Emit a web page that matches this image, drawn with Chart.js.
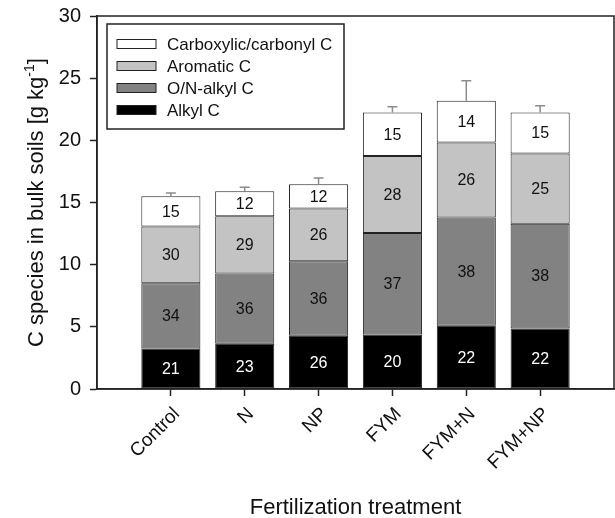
<!DOCTYPE html>
<html>
<head>
<meta charset="utf-8">
<script src="https://cdn.jsdelivr.net/npm/chart.js@4"></script>
<style>
    html, body { margin: 0; padding: 0; background: #fff; }
</style>
</head>
<body>
<canvas id="graphique-especes" width="615" height="518"></canvas>
<script>
// valeurs (g/kg) et pourcentages affichés dans les barres
const categories = ['Control', 'N', 'NP', 'FYM', 'FYM+N', 'FYM+NP'];
const alkyl = [3.26, 3.64, 4.28, 4.39, 5.09, 4.87];
const oNAlkyl = [5.24, 5.64, 5.99, 8.16, 8.70, 8.43];
const aromatic = [4.56, 4.62, 4.24, 6.20, 6.04, 5.64];
const carboxyl = [2.44, 2.00, 1.96, 3.49, 3.35, 3.30];
const errorTops = [15.77, 16.23, 16.98, 22.70, 24.79, 22.78];
const pctAlkyl = [21, 23, 26, 20, 22, 22];
const pctONAlkyl = [34, 36, 36, 37, 38, 38];
const pctAromatic = [30, 29, 26, 28, 26, 25];
const pctCarboxyl = [15, 12, 12, 15, 14, 15];
const yMin = 0;
const yMax = 30;
const yStep = 5;

const police = '"Liberation Sans", Arial, sans-serif';

// une catégorie vide de chaque côté, comme sur l'original
const labels = [''].concat(categories, ['']);
const pad = arr => [null].concat(arr, [null]);

const pourcentages = [pctAlkyl, pctONAlkyl, pctAromatic, pctCarboxyl];

const cadre = {
    id: 'cadre',
    afterDraw(chart) {
        const a = chart.chartArea;
        const ctx = chart.ctx;
        ctx.save();
        ctx.strokeStyle = '#222';
        ctx.lineWidth = 1.5;
        ctx.strokeRect(a.left, a.top, a.right - a.left, a.bottom - a.top);
        ctx.restore();
    }
};

const barresErreur = {
    id: 'barresErreur',
    afterDatasetsDraw(chart) {
        const ctx = chart.ctx;
        const x = chart.scales.x;
        const y = chart.scales.y;
        ctx.save();
        ctx.strokeStyle = '#8c8c8c';
        ctx.lineWidth = 1.5;
        categories.forEach((c, i) => {
            const total = alkyl[i] + oNAlkyl[i] + aromatic[i] + carboxyl[i];
            const px = x.getPixelForValue(i + 1);
            const y0 = y.getPixelForValue(total);
            const y1 = y.getPixelForValue(errorTops[i]);
            ctx.beginPath();
            ctx.moveTo(px, y0);
            ctx.lineTo(px, y1);
            ctx.moveTo(px - 5, y1);
            ctx.lineTo(px + 5, y1);
            ctx.stroke();
        });
        ctx.restore();
    }
};

const etiquettes = {
    id: 'etiquettes',
    afterDatasetsDraw(chart) {
        const ctx = chart.ctx;
        ctx.save();
        ctx.font = '16px ' + police;
        ctx.textAlign = 'center';
        ctx.textBaseline = 'middle';
        chart.data.datasets.forEach((ds, d) => {
            const meta = chart.getDatasetMeta(d);
            meta.data.forEach((bar, j) => {
                if (j === 0 || j === labels.length - 1) return;
                ctx.fillStyle = d === 0 ? '#fff' : '#111';
                ctx.fillText(String(pourcentages[d][j - 1]), bar.x, (bar.y + bar.base) / 2 + 1);
            });
        });
        ctx.restore();
    }
};

const legende = {
    id: 'legende',
    afterDraw(chart) {
        const ctx = chart.ctx;
        ctx.save();
        ctx.strokeStyle = '#222';
        ctx.lineWidth = 1.5;
        ctx.strokeRect(107, 24, 237, 105);
        ctx.font = '17px ' + police;
        ctx.textBaseline = 'middle';
        const ordre = [3, 2, 1, 0];
        ordre.forEach((d, r) => {
            const ds = chart.data.datasets[d];
            const cy = 44 + r * 22;
            ctx.fillStyle = ds.backgroundColor;
            ctx.fillRect(117, cy - 4.5, 39, 9);
            ctx.lineWidth = 1;
            ctx.strokeRect(117, cy - 4.5, 39, 9);
            ctx.fillStyle = '#111';
            ctx.fillText(ds.label, 167, cy + 1);
        });
        ctx.restore();
    }
};

const titres = {
    id: 'titres',
    afterDraw(chart) {
        const ctx = chart.ctx;
        const a = chart.chartArea;
        ctx.save();
        ctx.fillStyle = '#111';
        // titre de l'axe x
        ctx.font = '22px ' + police;
        ctx.textAlign = 'center';
        ctx.textBaseline = 'alphabetic';
        ctx.fillText('Fertilization treatment', (a.left + a.right) / 2, 514);
        // titre de l'axe y avec exposant
        const t1 = 'C species in bulk soils [g kg';
        const sup = '-1';
        const t2 = ']';
        ctx.font = '22px ' + police;
        const w1 = ctx.measureText(t1).width;
        const w3 = ctx.measureText(t2).width;
        ctx.font = '14px ' + police;
        const w2 = ctx.measureText(sup).width;
        const total = w1 + w2 + w3;
        ctx.translate(43, (a.top + a.bottom) / 2);
        ctx.rotate(-Math.PI / 2);
        ctx.textAlign = 'left';
        let x0 = -total / 2;
        ctx.font = '22px ' + police;
        ctx.fillText(t1, x0, 0);
        ctx.font = '14px ' + police;
        ctx.fillText(sup, x0 + w1, -9);
        ctx.font = '22px ' + police;
        ctx.fillText(t2, x0 + w1 + w2, 0);
        ctx.restore();
    }
};

const graphique = document.getElementById('graphique-especes');

new Chart(graphique, {
    type: 'bar',
    data: {
        labels: labels,
        datasets: [
            { label: 'Alkyl C', data: pad(alkyl), backgroundColor: '#000000' },
            { label: 'O/N-alkyl C', data: pad(oNAlkyl), backgroundColor: '#828282' },
            { label: 'Aromatic C', data: pad(aromatic), backgroundColor: '#c3c3c3' },
            { label: 'Carboxylic/carbonyl C', data: pad(carboxyl), backgroundColor: '#ffffff' }
        ].map(ds => Object.assign(ds, {
            borderColor: '#222',
            borderWidth: 1,
            borderSkipped: false,
            barPercentage: 0.8,
            categoryPercentage: 1
        }))
    },
    options: {
        responsive: false,
        animation: false,
        layout: {
            padding: { top: 16, right: 1, left: 0, bottom: 0 }
        },
        plugins: {
            legend: { display: false },
            tooltip: { enabled: false }
        },
        scales: {
            x: {
                stacked: true,
                offset: false,
                afterFit(scale) {
                    scale.height = 129;
                    scale.paddingLeft = 0;
                    scale.paddingRight = 0;
                },
                grid: {
                    offset: false,
                    drawOnChartArea: false,
                    tickLength: 7,
                    tickWidth: 1.5,
                    tickColor: ctx => (ctx.index === 0 || ctx.index === labels.length - 1) ? 'rgba(0,0,0,0)' : '#222'
                },
                border: { display: true, color: '#222', width: 1.5 },
                ticks: {
                    autoSkip: false,
                    minRotation: 45,
                    maxRotation: 45,
                    padding: 7,
                    labelOffset: 6,
                    color: '#111',
                    font: { family: police, size: 19 }
                }
            },
            y: {
                stacked: true,
                min: yMin,
                max: yMax,
                afterFit(scale) {
                    scale.width = 97;
                    scale.paddingTop = 0;
                    scale.paddingBottom = 0;
                },
                grid: {
                    drawOnChartArea: false,
                    tickLength: 7,
                    tickWidth: 1.5,
                    tickColor: '#222'
                },
                border: { display: true, color: '#222', width: 1.5 },
                ticks: {
                    stepSize: yStep,
                    padding: 9,
                    color: '#111',
                    font: { family: police, size: 20 }
                }
            }
        }
    },
    plugins: [cadre, barresErreur, etiquettes, legende, titres]
});
</script>
</body>
</html>
